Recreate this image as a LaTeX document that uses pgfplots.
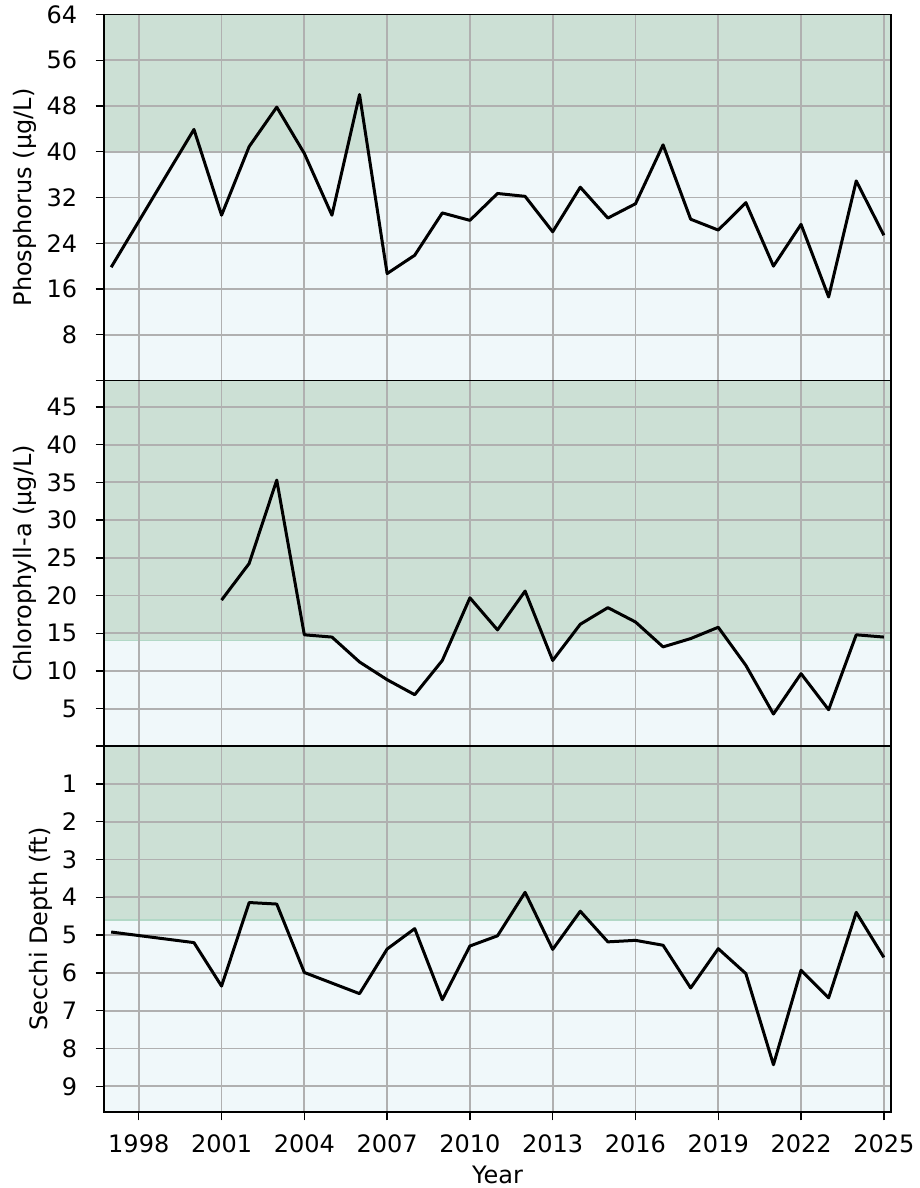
\documentclass[border=0pt]{standalone}
\usepackage{fontspec}
\setmainfont{DejaVu Sans}
\usepackage{pgfplots}
\pgfplotsset{compat=1.18}
\definecolor{hiband}{RGB}{204,224,213}
\definecolor{loband}{RGB}{240,248,250}
\definecolor{edgeband}{RGB}{178,216,198}
\definecolor{gridgray}{RGB}{176,176,176}
\pgfplotsset{
  panel/.style={
    scale only axis, width=393.5pt, height=183pt,
    xmin=1996.74, xmax=2025.26,
    xtick={1998,2001,...,2025},
    grid=major, grid style={gridgray, line width=0.9pt},
    tick align=outside, tick pos=left,
    major tick length=4.2pt,
    tick style={black, line width=0.7pt},
    axis line style={line width=0.8pt},
    set layers,
    /pgf/number format/assume math mode=true,
    /pgf/number format/1000 sep={},
    yticklabel style={xshift=-5pt},
    xticklabel style={yshift=-3pt},
    every axis y label/.style={at={(axis description cs:-0.1004,0.5)}, rotate=90, anchor=center},
    every axis x label/.style={at={(axis description cs:0.5,0)}, anchor=base, yshift=-35.7pt},
  },
  noxlab/.style={xticklabels={}, xtick style={draw=none}},
  dataline/.style={black, line width=1.5pt, line join=round},
}
\begin{document}
\fontsize{12}{14.4}\selectfont
\begin{tikzpicture}
% Phosphorus
\begin{axis}[panel, noxlab, at={(52pt,586.75pt)}, anchor=north west,
  ymin=0, ymax=64, ytick={0,8,...,64}, yticklabels={{},8,16,24,32,40,48,56,64},
  ylabel={Phosphorus (µg/L)}]
\addplot[on layer=axis background, fill=hiband, draw=none] coordinates {(1996.74,40) (2025.26,40) (2025.26,64) (1996.74,64)};
\addplot[on layer=axis background, fill=loband, draw=none] coordinates {(1996.74,0) (2025.26,0) (2025.26,40) (1996.74,40)};
\addplot[dataline] coordinates {
(1997,19.8)(2000,43.9)(2001,28.9)(2002,40.9)(2003,47.8)(2004,39.7)(2005,28.9)(2006,50.0)(2007,18.7)(2008,21.9)(2009,29.3)(2010,28.0)(2011,32.7)(2012,32.2)(2013,26.0)(2014,33.8)(2015,28.4)(2016,30.9)(2017,41.2)(2018,28.2)(2019,26.3)(2020,31.1)(2021,20.0)(2022,27.3)(2023,14.6)(2024,34.9)(2025,25.4)};
\end{axis}
% Chlorophyll
\begin{axis}[panel, noxlab, at={(52pt,403.75pt)}, anchor=north west,
  ymin=0, ymax=48.5, ytick={0,5,...,45}, yticklabels={{},5,10,15,20,25,30,35,40,45},
  ylabel={Chlorophyll-a (µg/L)}]
\addplot[on layer=axis background, fill=hiband, draw=none] coordinates {(1996.74,14) (2025.26,14) (2025.26,48.5) (1996.74,48.5)};
\addplot[on layer=axis background, fill=loband, draw=none] coordinates {(1996.74,0) (2025.26,0) (2025.26,14) (1996.74,14)};
\addplot[on layer=axis background, edgeband, line width=0.6pt] coordinates {(1996.74,14) (2025.26,14)};
\addplot[dataline] coordinates {
(2001,19.4)(2002,24.25)(2003,35.3)(2004,14.8)(2005,14.5)(2006,11.2)(2007,8.85)(2008,6.86)(2009,11.4)(2010,19.7)(2011,15.45)(2012,20.6)(2013,11.4)(2014,16.2)(2015,18.4)(2016,16.5)(2017,13.2)(2018,14.3)(2019,15.8)(2020,10.75)(2021,4.3)(2022,9.65)(2023,4.87)(2024,14.8)(2025,14.5)};
\end{axis}
% Secchi
\begin{axis}[panel, at={(52pt,221pt)}, anchor=north west,
  y dir=reverse, ymin=0, ymax=9.68, ytick={0,1,...,9}, yticklabels={{},1,2,3,4,5,6,7,8,9},
  ylabel={Secchi Depth (ft)}, xlabel={Year},
  every axis y label/.style={at={(axis description cs:-0.080,0.5)}, rotate=90, anchor=center}]
\addplot[on layer=axis background, fill=hiband, draw=none] coordinates {(1996.74,0) (2025.26,0) (2025.26,4.6) (1996.74,4.6)};
\addplot[on layer=axis background, fill=loband, draw=none] coordinates {(1996.74,4.6) (2025.26,4.6) (2025.26,9.68) (1996.74,9.68)};
\addplot[on layer=axis background, edgeband, line width=0.6pt] coordinates {(1996.74,4.6) (2025.26,4.6)};
\addplot[dataline] coordinates {
(1997,4.92)(2000,5.20)(2001,6.35)(2002,4.14)(2003,4.18)(2004,5.99)(2006,6.55)(2007,5.37)(2008,4.83)(2009,6.71)(2010,5.29)(2011,5.02)(2012,3.87)(2013,5.38)(2014,4.37)(2015,5.18)(2016,5.14)(2017,5.27)(2018,6.40)(2019,5.36)(2020,6.02)(2021,8.43)(2022,5.93)(2023,6.66)(2024,4.40)(2025,5.59)};
\end{axis}
\pgfresetboundingbox
\path[use as bounding box] (0,0) rectangle (460pt,594pt);
\end{tikzpicture}
\end{document}
